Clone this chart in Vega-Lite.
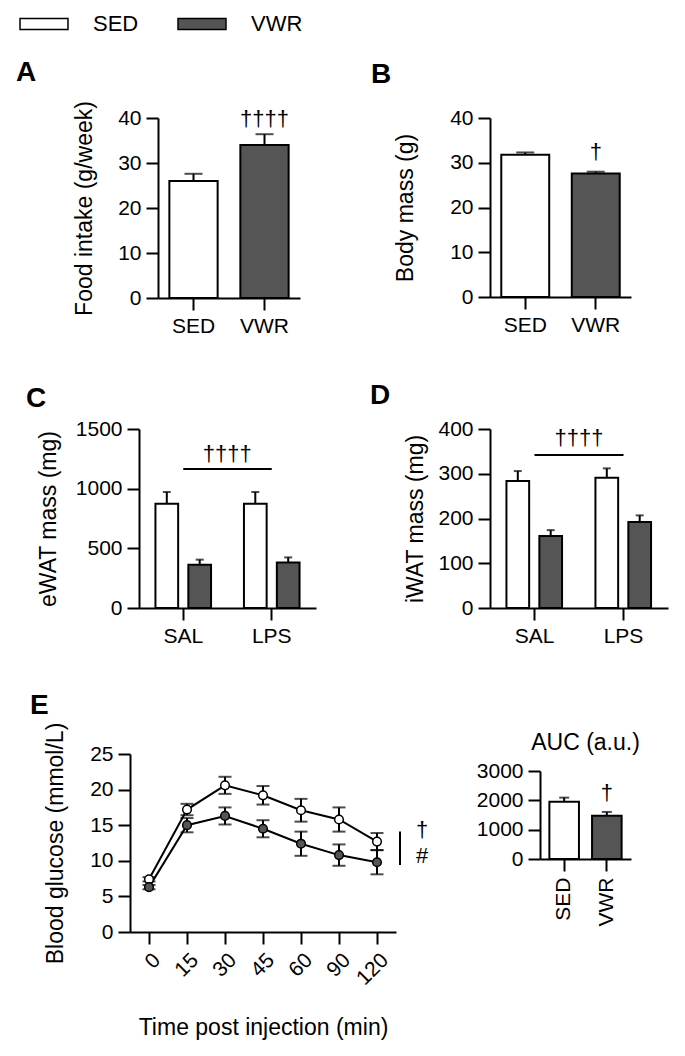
{
  "$schema": "https://vega.github.io/schema/vega-lite/v6.json",
  "background": "white",
  "padding": {"left": 16, "top": 13, "right": 5, "bottom": 5},
  "datasets": {
    "food": [
      {"group": "SED", "mean": 26.0, "upper": 27.6, "sig": ""},
      {"group": "VWR", "mean": 34.0, "upper": 36.4, "sig": "††††"}
    ],
    "body": [
      {"group": "SED", "mean": 31.8, "upper": 32.3, "sig": ""},
      {"group": "VWR", "mean": 27.6, "upper": 28.0, "sig": "†"}
    ],
    "ewat": [
      {"treatment": "SAL", "group": "SED", "mean": 874, "upper": 972},
      {"treatment": "SAL", "group": "VWR", "mean": 363, "upper": 405},
      {"treatment": "LPS", "group": "SED", "mean": 874, "upper": 972},
      {"treatment": "LPS", "group": "VWR", "mean": 382, "upper": 424}
    ],
    "ewatSig": [{"from": "SAL", "to": "LPS", "level": 1165, "sig": "††††"}],
    "iwat": [
      {"treatment": "SAL", "group": "SED", "mean": 284, "upper": 306},
      {"treatment": "SAL", "group": "VWR", "mean": 161, "upper": 174},
      {"treatment": "LPS", "group": "SED", "mean": 291, "upper": 312},
      {"treatment": "LPS", "group": "VWR", "mean": 192, "upper": 207}
    ],
    "iwatSig": [{"from": "SAL", "to": "LPS", "level": 342, "sig": "††††"}],
    "gtt": [
      {"time": "0", "group": "SED", "mean": 7.4, "lower": 7.1, "upper": 7.7},
      {"time": "15", "group": "SED", "mean": 17.2, "lower": 16.4, "upper": 18.0},
      {"time": "30", "group": "SED", "mean": 20.6, "lower": 19.4, "upper": 21.8},
      {"time": "45", "group": "SED", "mean": 19.2, "lower": 17.9, "upper": 20.5},
      {"time": "60", "group": "SED", "mean": 17.1, "lower": 15.5, "upper": 18.7},
      {"time": "90", "group": "SED", "mean": 15.8, "lower": 14.1, "upper": 17.5},
      {"time": "120", "group": "SED", "mean": 12.7, "lower": 11.5, "upper": 13.9},
      {"time": "0", "group": "VWR", "mean": 6.3, "lower": 6.0, "upper": 6.6},
      {"time": "15", "group": "VWR", "mean": 15.0, "lower": 14.0, "upper": 16.0},
      {"time": "30", "group": "VWR", "mean": 16.3, "lower": 15.1, "upper": 17.5},
      {"time": "45", "group": "VWR", "mean": 14.5, "lower": 13.3, "upper": 15.7},
      {"time": "60", "group": "VWR", "mean": 12.4, "lower": 10.7, "upper": 14.1},
      {"time": "90", "group": "VWR", "mean": 10.8, "lower": 9.3, "upper": 12.3},
      {"time": "120", "group": "VWR", "mean": 9.8, "lower": 8.1, "upper": 11.5}
    ],
    "gttSig": [{"time": "120", "lower": 9.4, "upper": 14.1, "sigTop": "†", "sigBottom": "#"}],
    "auc": [
      {"group": "SED", "mean": 1955, "upper": 2092, "sig": ""},
      {"group": "VWR", "mean": 1478, "upper": 1604, "sig": "†"}
    ]
  },
  "bounds": "flush",
  "spacing": 0,
  "vconcat": [
    {
      "bounds": "flush",
      "spacing": 0,
      "hconcat": [
        {"width": 28, "height": 1, "data": {"values": []}, "mark": "point", "encoding": {}},
        {
          "title": {"text": "A", "dx": -142, "offset": 14},
          "width": 142,
          "height": 180,
          "data": {"name": "food"},
          "encoding": {
            "x": {"field": "group", "type": "nominal", "scale": {"domain": ["SED", "VWR"], "paddingInner": 0.32, "paddingOuter": 0.16}, "axis": {"title": null, "labelAngle": 0}}
          },
          "layer": [
            {"mark": {"type": "rule", "strokeWidth": 2, "color": "black"}, "encoding": {"y": {"field": "mean", "type": "quantitative", "scale": {"domain": [0, 40], "nice": false}, "axis": {"title": "Food intake (g/week)", "values": [0, 10, 20, 30, 40], "labelOverlap": false, "titlePadding": 21}}, "y2": {"field": "upper"}}},
            {"mark": {"type": "tick", "size": 18, "thickness": 2, "color": "black"}, "encoding": {"y": {"field": "upper", "type": "quantitative"}}},
            {"mark": {"type": "bar", "stroke": "black", "strokeWidth": 2}, "encoding": {"y": {"field": "mean", "type": "quantitative"}, "color": {"field": "group", "type": "nominal", "scale": {"domain": ["SED", "VWR"], "range": ["#ffffff", "#555555"]}, "legend": {"title": null}}}},
            {"mark": {"type": "text", "dy": -15.5, "baseline": "middle"}, "encoding": {"y": {"field": "upper", "type": "quantitative"}, "text": {"field": "sig"}}}
          ]
        },
        {"width": 190, "height": 1, "data": {"values": []}, "mark": "point", "encoding": {}},
        {
          "title": {"text": "B", "dx": -119, "offset": 18},
          "width": 141,
          "height": 179,
          "data": {"name": "body"},
          "encoding": {
            "x": {"field": "group", "type": "nominal", "scale": {"domain": ["SED", "VWR"], "paddingInner": 0.32, "paddingOuter": 0.16}, "axis": {"title": null, "labelAngle": 0}}
          },
          "layer": [
            {"mark": {"type": "rule", "strokeWidth": 2, "color": "black"}, "encoding": {"y": {"field": "mean", "type": "quantitative", "scale": {"domain": [0, 40], "nice": false}, "axis": {"title": "Body mass (g)", "values": [0, 10, 20, 30, 40], "labelOverlap": false, "titlePadding": 32}}, "y2": {"field": "upper"}}},
            {"mark": {"type": "tick", "size": 18, "thickness": 2, "color": "black"}, "encoding": {"y": {"field": "upper", "type": "quantitative"}}},
            {"mark": {"type": "bar", "stroke": "black", "strokeWidth": 2}, "encoding": {"y": {"field": "mean", "type": "quantitative"}, "color": {"field": "group", "type": "nominal", "scale": {"domain": ["SED", "VWR"], "range": ["#ffffff", "#555555"]}, "legend": {"title": null}}}},
            {"mark": {"type": "text", "dy": -20, "baseline": "middle"}, "encoding": {"y": {"field": "upper", "type": "quantitative"}, "text": {"field": "sig"}}}
          ]
        }
      ]
    },
    {"width": 1, "height": 311, "data": {"values": []}, "mark": "point", "encoding": {}},
    {
      "bounds": "flush",
      "spacing": 0,
      "hconcat": [
        {"width": 9, "height": 1, "data": {"values": []}, "mark": "point", "encoding": {}},
        {
          "title": {"text": "C", "dx": -113, "offset": 5},
          "width": 177,
          "height": 179,
          "encoding": {
            "x": {"field": "treatment", "type": "nominal", "scale": {"domain": ["SAL", "LPS"], "paddingInner": 0, "paddingOuter": 0}, "axis": {"title": null, "labelAngle": 0}}
          },
          "layer": [
            {"data": {"name": "ewat"}, "mark": {"type": "rule", "strokeWidth": 2, "color": "black"}, "encoding": {"xOffset": {"field": "group", "type": "nominal", "scale": {"domain": ["SED", "VWR"], "paddingInner": 0.31, "paddingOuter": 0.5}}, "y": {"field": "mean", "type": "quantitative", "scale": {"domain": [0, 1500], "nice": false}, "axis": {"title": "eWAT mass (mg)", "values": [0, 500, 1000, 1500], "format": "d", "labelOverlap": false, "titlePadding": 15}}, "y2": {"field": "upper"}}},
            {"data": {"name": "ewat"}, "mark": {"type": "tick", "size": 8, "thickness": 2, "color": "black"}, "encoding": {"xOffset": {"field": "group", "type": "nominal"}, "y": {"field": "upper", "type": "quantitative"}}},
            {"data": {"name": "ewat"}, "mark": {"type": "bar", "stroke": "black", "strokeWidth": 2}, "encoding": {"xOffset": {"field": "group", "type": "nominal"}, "y": {"field": "mean", "type": "quantitative"}, "color": {"field": "group", "type": "nominal", "scale": {"domain": ["SED", "VWR"], "range": ["#ffffff", "#555555"]}, "legend": {"title": null}}}},
            {"data": {"name": "ewatSig"}, "mark": {"type": "rule", "strokeWidth": 2, "color": "black"}, "encoding": {"x": {"field": "from", "type": "nominal", "bandPosition": 0.5}, "x2": {"field": "to"}, "y": {"field": "level", "type": "quantitative"}}},
            {"data": {"name": "ewatSig"}, "mark": {"type": "text", "dx": 44, "dy": -15, "baseline": "middle"}, "encoding": {"x": {"field": "from", "type": "nominal"}, "y": {"field": "level", "type": "quantitative"}, "text": {"field": "sig"}}}
          ]
        },
        {"width": 174, "height": 1, "data": {"values": []}, "mark": "point", "encoding": {}},
        {
          "title": {"text": "D", "dx": -120, "offset": 8},
          "width": 178,
          "height": 179,
          "encoding": {
            "x": {"field": "treatment", "type": "nominal", "scale": {"domain": ["SAL", "LPS"], "paddingInner": 0, "paddingOuter": 0}, "axis": {"title": null, "labelAngle": 0}}
          },
          "layer": [
            {"data": {"name": "iwat"}, "mark": {"type": "rule", "strokeWidth": 2, "color": "black"}, "encoding": {"xOffset": {"field": "group", "type": "nominal", "scale": {"domain": ["SED", "VWR"], "paddingInner": 0.31, "paddingOuter": 0.5}}, "y": {"field": "mean", "type": "quantitative", "scale": {"domain": [0, 400], "nice": false}, "axis": {"title": "iWAT mass (mg)", "values": [0, 100, 200, 300, 400], "labelOverlap": false, "titlePadding": 10}}, "y2": {"field": "upper"}}},
            {"data": {"name": "iwat"}, "mark": {"type": "tick", "size": 8, "thickness": 2, "color": "black"}, "encoding": {"xOffset": {"field": "group", "type": "nominal"}, "y": {"field": "upper", "type": "quantitative"}}},
            {"data": {"name": "iwat"}, "mark": {"type": "bar", "stroke": "black", "strokeWidth": 2}, "encoding": {"xOffset": {"field": "group", "type": "nominal"}, "y": {"field": "mean", "type": "quantitative"}, "color": {"field": "group", "type": "nominal", "scale": {"domain": ["SED", "VWR"], "range": ["#ffffff", "#555555"]}, "legend": {"title": null}}}},
            {"data": {"name": "iwatSig"}, "mark": {"type": "rule", "strokeWidth": 2, "color": "black"}, "encoding": {"x": {"field": "from", "type": "nominal", "bandPosition": 0.5}, "x2": {"field": "to"}, "y": {"field": "level", "type": "quantitative"}}},
            {"data": {"name": "iwatSig"}, "mark": {"type": "text", "dx": 44.5, "dy": -17, "baseline": "middle"}, "encoding": {"x": {"field": "from", "type": "nominal"}, "y": {"field": "level", "type": "quantitative"}, "text": {"field": "sig"}}}
          ]
        }
      ]
    },
    {"width": 1, "height": 325, "data": {"values": []}, "mark": "point", "encoding": {}},
    {
      "bounds": "flush",
      "spacing": 0,
      "hconcat": [
        {
          "title": {"text": "E", "dx": -100, "offset": 2},
          "width": 266,
          "height": 178,
          "encoding": {
            "x": {"field": "time", "type": "ordinal", "scale": {"type": "point", "padding": 0.5, "domain": ["0", "15", "30", "45", "60", "90", "120"]}, "axis": {"title": "Time post injection (min)", "labelAngle": -45, "titlePadding": 28}}
          },
          "layer": [
            {"data": {"name": "gtt"}, "mark": {"type": "rule", "strokeWidth": 2, "color": "black"}, "encoding": {"y": {"field": "lower", "type": "quantitative", "scale": {"domain": [0, 25], "nice": false}, "axis": {"title": "Blood glucose (mmol/L)", "values": [0, 5, 10, 15, 20, 25], "labelOverlap": false, "labelSeparation": -15, "titlePadding": 22}}, "y2": {"field": "upper"}}},
            {"data": {"name": "gtt"}, "mark": {"type": "tick", "size": 13, "thickness": 2, "color": "black"}, "encoding": {"y": {"field": "lower", "type": "quantitative", "axis": {"title": "Blood glucose (mmol/L)", "values": [0, 5, 10, 15, 20, 25], "labelOverlap": false, "labelSeparation": -15, "titlePadding": 22}}}},
            {"data": {"name": "gtt"}, "mark": {"type": "tick", "size": 13, "thickness": 2, "color": "black"}, "encoding": {"y": {"field": "upper", "type": "quantitative", "axis": {"title": "Blood glucose (mmol/L)", "values": [0, 5, 10, 15, 20, 25], "labelOverlap": false, "labelSeparation": -15, "titlePadding": 22}}}},
            {"data": {"name": "gtt"}, "mark": {"type": "line", "strokeWidth": 2, "color": "black"}, "encoding": {"y": {"field": "mean", "type": "quantitative", "axis": {"title": "Blood glucose (mmol/L)", "values": [0, 5, 10, 15, 20, 25], "labelOverlap": false, "labelSeparation": -15, "titlePadding": 22}}, "detail": {"field": "group"}}},
            {"data": {"name": "gtt"}, "mark": {"type": "point", "filled": true, "size": 75, "stroke": "black", "strokeWidth": 1.5, "opacity": 1}, "encoding": {"y": {"field": "mean", "type": "quantitative", "axis": {"title": "Blood glucose (mmol/L)", "values": [0, 5, 10, 15, 20, 25], "labelOverlap": false, "labelSeparation": -15, "titlePadding": 22}}, "color": {"field": "group", "type": "nominal", "scale": {"domain": ["SED", "VWR"], "range": ["#ffffff", "#555555"]}, "legend": {"title": null}}}},
            {"data": {"name": "gttSig"}, "mark": {"type": "rule", "strokeWidth": 2, "color": "black", "xOffset": 23}, "encoding": {"y": {"field": "lower", "type": "quantitative", "axis": {"title": "Blood glucose (mmol/L)", "values": [0, 5, 10, 15, 20, 25], "labelOverlap": false, "labelSeparation": -15, "titlePadding": 22}}, "y2": {"field": "upper"}}},
            {"data": {"name": "gttSig"}, "mark": {"type": "text", "dx": 45, "dy": -2, "baseline": "middle"}, "encoding": {"y": {"field": "upper", "type": "quantitative", "axis": {"title": "Blood glucose (mmol/L)", "values": [0, 5, 10, 15, 20, 25], "labelOverlap": false, "labelSeparation": -15, "titlePadding": 22}}, "text": {"field": "sigTop"}}},
            {"data": {"name": "gttSig"}, "mark": {"type": "text", "dx": 45, "dy": -9, "baseline": "middle"}, "encoding": {"y": {"field": "lower", "type": "quantitative", "axis": {"title": "Blood glucose (mmol/L)", "values": [0, 5, 10, 15, 20, 25], "labelOverlap": false, "labelSeparation": -15, "titlePadding": 22}}, "text": {"field": "sigBottom"}}}
          ]
        },
        {"width": 144, "height": 1, "data": {"values": []}, "mark": "point", "encoding": {}},
        {
          "bounds": "flush",
          "spacing": 0,
          "vconcat": [
            {"width": 1, "height": 17, "data": {"values": []}, "mark": "point", "encoding": {}},
            {
              "title": {"text": "AUC (a.u.)", "anchor": "middle", "fontWeight": "normal", "fontSize": 23, "offset": 5},
              "width": 91,
              "height": 88,
              "data": {"name": "auc"},
              "encoding": {
                "x": {"field": "group", "type": "nominal", "scale": {"domain": ["SED", "VWR"], "paddingInner": 0.307, "paddingOuter": 0.22}, "axis": {"title": null, "labelAngle": -90, "labelPadding": 6}}
              },
              "layer": [
                {"mark": {"type": "rule", "strokeWidth": 2, "color": "black"}, "encoding": {"y": {"field": "mean", "type": "quantitative", "scale": {"domain": [0, 3000], "nice": false}, "axis": {"title": null, "values": [0, 1000, 2000, 3000], "format": "d", "labelOverlap": false, "labelSeparation": -15}}, "y2": {"field": "upper"}}},
                {"mark": {"type": "tick", "size": 10, "thickness": 2, "color": "black"}, "encoding": {"y": {"field": "upper", "type": "quantitative", "axis": {"title": null, "values": [0, 1000, 2000, 3000], "format": "d", "labelOverlap": false, "labelSeparation": -15}}}},
                {"mark": {"type": "bar", "stroke": "black", "strokeWidth": 2}, "encoding": {"y": {"field": "mean", "type": "quantitative", "axis": {"title": null, "values": [0, 1000, 2000, 3000], "format": "d", "labelOverlap": false, "labelSeparation": -15}}, "color": {"field": "group", "type": "nominal", "scale": {"domain": ["SED", "VWR"], "range": ["#ffffff", "#555555"]}, "legend": {"title": null}}}},
                {"mark": {"type": "text", "dy": -19, "baseline": "middle"}, "encoding": {"y": {"field": "upper", "type": "quantitative", "axis": {"title": null, "values": [0, 1000, 2000, 3000], "format": "d", "labelOverlap": false, "labelSeparation": -15}}, "text": {"field": "sig"}}}
              ]
            }
          ]
        }
      ]
    }
  ],
  "config": {
    "view": {"stroke": null},
    "font": "Liberation Sans",
    "axis": {
      "domainColor": "black",
      "domainWidth": 2,
      "tickColor": "black",
      "tickWidth": 2,
      "tickSize": 12,
      "grid": false,
      "labelOverlap": false,
      "labelFont": "Liberation Sans",
      "labelFontSize": 21,
      "labelColor": "black",
      "labelPadding": 5,
      "titleFont": "Liberation Sans",
      "titleFontSize": 23,
      "titleFontWeight": "normal",
      "titleColor": "black"
    },
    "axisY": {"labelOverlap": false},
    "axisQuantitative": {"labelOverlap": false},
    "title": {"font": "Liberation Sans", "fontWeight": "bold", "fontSize": 28, "color": "black", "anchor": "start", "frame": "group"},
    "text": {"font": "Liberation Sans", "fontSize": 22, "color": "black"},
    "legend": {
      "orient": "none",
      "legendX": -97,
      "legendY": -105,
      "direction": "horizontal",
      "columns": 2,
      "symbolType": "M-4.36,-1H4.36V1H-4.36Z",
      "symbolSize": 121,
      "symbolStrokeColor": "black",
      "symbolStrokeWidth": 1.5,
      "labelFont": "Liberation Sans",
      "labelFontSize": 22,
      "labelColor": "black",
      "labelOffset": 38,
      "columnPadding": 36
    }
  }
}
